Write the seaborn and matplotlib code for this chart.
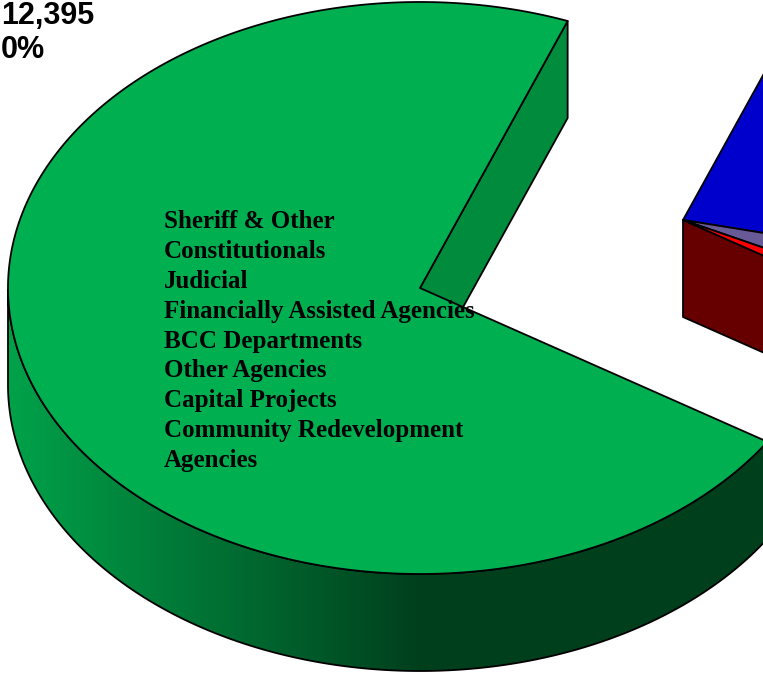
import numpy as np
import matplotlib
matplotlib.use("Agg")
import matplotlib.pyplot as plt
from matplotlib.patches import Polygon
from matplotlib.colors import to_rgb
import seaborn as sns

# ---------------- data ----------------
slice_names = ["Blue segment", "Purple segment", "Red segment", "Green segment"]
slice_shares = [22.8, 3.7, 1.7, 71.8]          # percent, clockwise from start angle
slice_group = ["rest", "rest", "rest", "main"]
label_lines = ["Sheriff & Other", "Constitutionals", "Judicial",
               "Financially Assisted Agencies", "BCC Departments",
               "Other Agencies", "Capital Projects",
               "Community Redevelopment", "Agencies"]
corner_lines = ["12,395", "0%"]

# ---------------- style / layout ----------------
top_colors = ["#0000CC", "#685A96", "#FF0000", "#00B050"]
wall_colors = ["#00008A", "#4A3F6B", "#660000", "#008C3C"]
START = 69.0
A, B, DEPTH = 412.0, 286.0, 97.0
centers = {"rest": (683.0, 220.0), "main": (420.0, 288.0)}
W, H = 763, 680

sns.set_theme(style="white")
plt.rcParams["font.family"] = ["Liberation Sans", "DejaVu Sans"]

fig = plt.figure(figsize=(W / 100, H / 100), dpi=100)
ax = fig.add_axes([0, 0, 1, 1])
ax.set_xlim(0, W)
ax.set_ylim(H, 0)
ax.axis("off")

# angle boundaries (clockwise)
bounds = [START]
for s in slice_shares:
    bounds.append(bounds[-1] - s * 3.6)
ranges = [(bounds[i + 1], bounds[i]) for i in range(len(slice_shares))]  # (t1, t2) CCW


def rim(c, t, dz=0.0):
    r = np.radians(t)
    return (c[0] + A * np.cos(r), c[1] - B * np.sin(r) + dz)


LW = 1.3
z = 1
for grp in ["rest", "main"]:
    c = centers[grp]
    idx = [i for i, g in enumerate(slice_group) if g == grp]
    g_t1 = min(ranges[i][0] for i in idx)
    g_t2 = max(ranges[i][1] for i in idx)
    i_low = [i for i in idx if ranges[i][0] == g_t1][0]
    i_high = [i for i in idx if ranges[i][1] == g_t2][0]
    # radial walls at group boundaries
    for t, i, vis in [(g_t1, i_low, np.cos(np.radians(g_t1)) > 0),
                      (g_t2, i_high, np.cos(np.radians(g_t2)) < 0)]:
        if vis:
            pts = [c, rim(c, t), rim(c, t, DEPTH), (c[0], c[1] + DEPTH)]
            ax.add_patch(Polygon(pts, closed=True, facecolor=wall_colors[i],
                                 edgecolor="black", lw=LW, zorder=z, joinstyle="round"))
            z += 1
    # outer sides (front-facing part) with horizontal light gradient
    for i in idx:
        t1, t2 = ranges[i]
        ts = np.linspace(t1, t2, int(abs(t2 - t1) * 4) + 2)
        ts = ts[np.sin(np.radians(ts)) <= 1e-9]
        if len(ts) < 2:
            continue
        outline = [rim(c, t) for t in ts] + [rim(c, t, DEPTH) for t in ts[::-1]]
        xs = np.array([p[0] for p in outline])
        ys = np.array([p[1] for p in outline])
        side = Polygon(outline, closed=True, facecolor="none",
                       edgecolor="black", lw=LW, zorder=z + 1)
        ax.add_patch(side)
        gx = np.linspace(xs.min(), xs.max(), 400)
        f = 0.36 + 0.56 * np.clip(-(gx - c[0]) / A, 0, 1)
        img = np.array(to_rgb(top_colors[i]))[None, None, :] * f[None, :, None]
        im = ax.imshow(np.clip(img, 0, 1), extent=(xs.min(), xs.max(), ys.max(), ys.min()),
                       aspect="auto", interpolation="bilinear", zorder=z)
        im.set_clip_path(side)
        z += 2
    # top faces
    for i in idx:
        t1, t2 = ranges[i]
        ts = np.linspace(t1, t2, int(abs(t2 - t1) * 3) + 2)
        pts = [c] + [rim(c, t) for t in ts]
        ax.add_patch(Polygon(pts, closed=True, facecolor=top_colors[i],
                             edgecolor="black", lw=LW, zorder=z, joinstyle="round"))
        z += 1

ax.set_xlim(0, W)
ax.set_ylim(H, 0)

# labels inside green slice
for k, line in enumerate(label_lines):
    ax.text(164, 228 + 29.9 * k, line, ha="left", va="baseline",
            fontsize=18, fontweight="bold", family=["Liberation Serif"],
            color="black", zorder=z + 5)

# corner label (kept fully inside the canvas)
ax.text(1, 24, corner_lines[0], ha="left", va="baseline", fontsize=22,
        fontweight="bold", color="black", zorder=z + 5)
ax.text(1, 58, corner_lines[1], ha="left", va="baseline", fontsize=22,
        fontweight="bold", color="black", zorder=z + 5)

fig.savefig("out.png", dpi=100)
